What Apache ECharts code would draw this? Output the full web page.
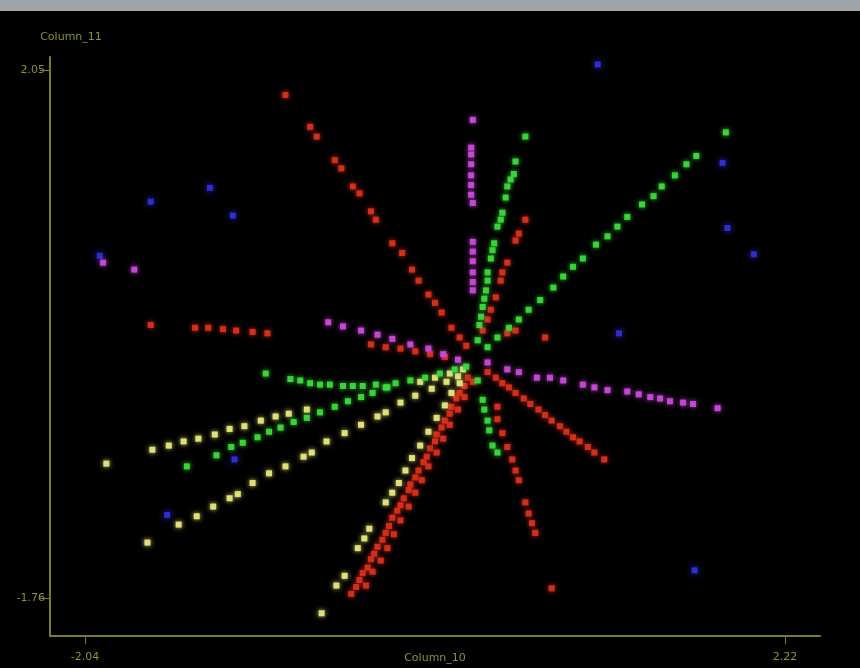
<!DOCTYPE html>
<html>
<head>
<meta charset="utf-8">
<script src="https://cdn.jsdelivr.net/npm/echarts@6/dist/echarts.min.js"></script>
<style>
  html, body { margin: 0; padding: 0; background: #000; }
  #topbar { position: absolute; left: 0; top: 0; width: 860px; height: 11px; background: #9fa4aa; z-index: 2; }
  #chart { position: absolute; left: 0; top: 0; width: 860px; height: 668px; }
</style>
</head>
<body>
<div id="chart"></div>
<div id="topbar"></div>
<script>
// Axis names and the two labelled ticks on each axis
const xName = 'Column_10';
const yName = 'Column_11';
const xTicks = [-2.04, 2.22];
const yTicks = [-1.76, 2.05];

// Point clouds, one array per colour: [Column_10, Column_11]
const redPts = [
  // long ray to the upper left
  [-0.82, 1.87], [-0.67, 1.64], [-0.63, 1.57], [-0.52, 1.40], [-0.48, 1.34], [-0.41, 1.21],
  [-0.37, 1.16], [-0.30, 1.03], [-0.27, 0.97], [-0.17, 0.80], [-0.11, 0.73], [-0.05, 0.61],
  [-0.01, 0.53], [0.05, 0.43], [0.09, 0.37], [0.13, 0.30], [0.19, 0.19], [0.24, 0.12], [0.28, 0.06],
  // short horizontal run on the left
  [-1.64, 0.21], [-1.37, 0.19], [-1.29, 0.19], [-1.20, 0.18], [-1.12, 0.17], [-1.02, 0.16], [-0.93, 0.15],
  // run beneath the magenta ray
  [-0.30, 0.07], [-0.21, 0.05], [-0.12, 0.04], [-0.03, 0.02], [0.06, 0.00], [0.15, -0.02],
  // upward ray
  [0.64, 0.97], [0.60, 0.87], [0.58, 0.82], [0.53, 0.66], [0.50, 0.59], [0.49, 0.53],
  [0.46, 0.41], [0.43, 0.32], [0.41, 0.25], [0.38, 0.17],
  [0.53, 0.15], [0.58, 0.17], [0.76, 0.12],
  // ray to the lower right
  [0.41, -0.13], [0.46, -0.17], [0.50, -0.21], [0.54, -0.24], [0.58, -0.28], [0.63, -0.32],
  [0.67, -0.36], [0.72, -0.40], [0.76, -0.44], [0.80, -0.48], [0.85, -0.52], [0.89, -0.56],
  [0.93, -0.60], [0.97, -0.63], [1.02, -0.67], [1.06, -0.71], [1.12, -0.76],
  // steep ray downwards
  [0.47, -0.38], [0.47, -0.47], [0.50, -0.57], [0.53, -0.67], [0.56, -0.76], [0.58, -0.84],
  [0.60, -0.91], [0.64, -1.07], [0.66, -1.15], [0.68, -1.22], [0.70, -1.29], [0.80, -1.69],
  // dense band to the lower left
  [0.29, -0.17], [0.27, -0.23], [0.24, -0.28], [0.22, -0.32], [0.19, -0.38], [0.18, -0.43],
  [0.15, -0.48], [0.13, -0.53], [0.10, -0.58], [0.09, -0.63], [0.06, -0.68], [0.04, -0.74],
  [0.02, -0.78], [-0.01, -0.84], [-0.03, -0.89], [-0.06, -0.94], [-0.07, -0.98], [-0.10, -1.04],
  [-0.12, -1.09], [-0.14, -1.13], [-0.17, -1.18], [-0.19, -1.24], [-0.21, -1.29], [-0.23, -1.34],
  [-0.26, -1.39], [-0.28, -1.44], [-0.30, -1.48], [-0.32, -1.54], [-0.35, -1.58], [-0.37, -1.63],
  [-0.39, -1.68], [-0.42, -1.73],
  [0.32, -0.20], [0.27, -0.31], [0.23, -0.40], [0.18, -0.51], [0.14, -0.61], [0.10, -0.71],
  [0.05, -0.81], [0.01, -0.91], [-0.03, -1.00], [-0.07, -1.10], [-0.12, -1.20], [-0.16, -1.30],
  [-0.20, -1.40], [-0.24, -1.49], [-0.29, -1.57], [-0.33, -1.67]
];

const yellowPts = [
  [-1.91, -0.79], [-1.63, -0.69], [-1.53, -0.66], [-1.44, -0.63], [-1.35, -0.61], [-1.25, -0.58],
  [-1.16, -0.54], [-1.07, -0.52], [-0.97, -0.48], [-0.88, -0.45], [-0.80, -0.43], [-0.69, -0.40],
  [0.00, -0.20], [0.09, -0.17], [0.18, -0.14], [0.26, -0.11],
  [-1.66, -1.36], [-1.47, -1.23], [-1.36, -1.17], [-1.26, -1.10], [-1.16, -1.04], [-1.11, -1.01],
  [-1.02, -0.93], [-0.92, -0.86], [-0.82, -0.81], [-0.71, -0.74], [-0.66, -0.71], [-0.57, -0.63],
  [-0.46, -0.57], [-0.36, -0.51], [-0.26, -0.45], [-0.21, -0.42], [-0.12, -0.35], [-0.03, -0.30],
  [0.07, -0.25], [0.16, -0.20], [0.23, -0.16],
  [-0.60, -1.87], [-0.51, -1.67], [-0.46, -1.60], [-0.38, -1.40], [-0.34, -1.33], [-0.31, -1.26],
  [-0.21, -1.07], [-0.17, -1.00], [-0.13, -0.93], [-0.09, -0.84], [-0.05, -0.75], [0.00, -0.66],
  [0.05, -0.56], [0.10, -0.46], [0.15, -0.37], [0.19, -0.28], [0.24, -0.21]
];

const greenPts = [
  // near-vertical ray
  [0.64, 1.57], [0.58, 1.39], [0.57, 1.30], [0.55, 1.26], [0.53, 1.21], [0.52, 1.13], [0.50, 1.02],
  [0.49, 0.97], [0.47, 0.92], [0.45, 0.80], [0.44, 0.75], [0.43, 0.69], [0.41, 0.59], [0.41, 0.53],
  [0.40, 0.46], [0.39, 0.40], [0.38, 0.34], [0.37, 0.27], [0.36, 0.21], [0.35, 0.10],
  // long ray to the upper right
  [1.86, 1.60], [1.68, 1.43], [1.62, 1.37], [1.55, 1.29], [1.47, 1.21], [1.42, 1.14], [1.35, 1.08],
  [1.26, 0.99], [1.20, 0.92], [1.14, 0.85], [1.07, 0.79], [0.99, 0.69], [0.93, 0.63], [0.87, 0.56],
  [0.81, 0.48], [0.73, 0.39], [0.66, 0.32], [0.60, 0.25], [0.54, 0.19], [0.47, 0.12], [0.41, 0.05],
  // flat ray to the left
  [-0.94, -0.14], [-0.79, -0.18], [-0.73, -0.19], [-0.67, -0.21], [-0.61, -0.22], [-0.55, -0.22],
  [-0.47, -0.23], [-0.41, -0.23], [-0.35, -0.23], [-0.27, -0.22], [-0.21, -0.24], [-0.15, -0.21],
  [-0.06, -0.19], [0.03, -0.17], [0.12, -0.14], [0.21, -0.11], [0.28, -0.09],
  // lower left ray
  [-1.42, -0.81], [-1.24, -0.73], [-1.15, -0.67], [-1.08, -0.64], [-0.99, -0.60], [-0.92, -0.56],
  [-0.85, -0.53], [-0.77, -0.49], [-0.69, -0.46], [-0.61, -0.42], [-0.52, -0.38], [-0.44, -0.34],
  [-0.36, -0.31], [-0.29, -0.28], [-0.20, -0.24],
  // short run downwards
  [0.35, -0.19], [0.38, -0.33], [0.39, -0.40], [0.41, -0.48], [0.42, -0.55], [0.44, -0.66], [0.47, -0.71]
];

const magentaPts = [
  [0.32, 1.69], [0.31, 1.49], [0.31, 1.44], [0.31, 1.37], [0.31, 1.29], [0.31, 1.22], [0.31, 1.15],
  [0.32, 1.09], [0.32, 0.81], [0.32, 0.74], [0.32, 0.67], [0.32, 0.59], [0.32, 0.52], [0.32, 0.46],
  [-0.56, 0.23], [-0.47, 0.20], [-0.36, 0.17], [-0.26, 0.14], [-0.17, 0.11], [-0.06, 0.07],
  [0.05, 0.04], [0.14, 0.00], [0.23, -0.04],
  [0.41, -0.06], [0.53, -0.11], [0.60, -0.13], [0.71, -0.17], [0.79, -0.17], [0.87, -0.19],
  [0.99, -0.22], [1.06, -0.24], [1.14, -0.26], [1.26, -0.27], [1.33, -0.29], [1.40, -0.31],
  [1.46, -0.32], [1.52, -0.34], [1.60, -0.35], [1.66, -0.36], [1.81, -0.39],
  [-1.93, 0.66], [-1.74, 0.61]
];

const bluePts = [
  [1.08, 2.09], [-1.64, 1.10], [-1.28, 1.20], [-1.14, 1.00], [-1.95, 0.71], [1.84, 1.38],
  [1.87, 0.91], [2.03, 0.72], [1.21, 0.15], [1.67, -1.56], [-1.13, -0.76], [-1.54, -1.16]
];

const axisColor = '#7d7d24';
const textColor = '#8f8f36';
const font = 'DejaVu Sans';

function pointSeries(data, color, size, blur) {
  return {
    type: 'scatter',
    data: data,
    symbol: 'rect',
    symbolSize: size,
    silent: true,
    itemStyle: { color: color, shadowBlur: blur, shadowColor: color, opacity: 0.95 }
  };
}

const chart = echarts.init(document.getElementById('chart'), null, { renderer: 'canvas' });
chart.setOption({
  backgroundColor: '#000000',
  animation: false,
  grid: { left: 50, right: 40, top: 57, bottom: 32, containLabel: false, outerBoundsMode: 'none' },
  xAxis: {
    type: 'value',
    min: -2.253, max: 2.433,
    name: xName,
    nameLocation: 'middle',
    nameGap: 22,
    nameMoveOverlap: false,
    nameTextStyle: { color: textColor, fontSize: 11, fontFamily: font, verticalAlign: 'middle' },
    axisLine: { onZero: false, lineStyle: { color: axisColor, width: 2 } },
    axisTick: { show: true, customValues: xTicks, length: 8, lineStyle: { color: axisColor, width: 1 } },
    axisLabel: {
      customValues: xTicks, color: textColor, fontSize: 11, fontFamily: font, margin: 16,
      formatter: v => v.toFixed(2)
    },
    splitLine: { show: false }
  },
  yAxis: {
    type: 'value',
    min: -2.034, max: 2.144,
    name: yName,
    nameLocation: 'end',
    nameGap: 14,
    nameTextStyle: { color: textColor, fontSize: 11, fontFamily: font, align: 'center', padding: [0, 0, 0, 42] },
    axisLine: { onZero: false, lineStyle: { color: axisColor, width: 2 } },
    axisTick: { show: true, customValues: yTicks, length: 10, lineStyle: { color: axisColor, width: 1 } },
    axisLabel: {
      customValues: yTicks, color: textColor, fontSize: 11, fontFamily: font, margin: 5,
      formatter: v => v.toFixed(2)
    },
    splitLine: { show: false }
  },
  series: [
    pointSeries(bluePts, '#2f2fd8', 6, 7),
    pointSeries(redPts, '#d8301c', 6, 5),
    pointSeries(yellowPts, '#e6e67e', 6, 5),
    pointSeries(greenPts, '#3cd83c', 6, 5),
    pointSeries(magentaPts, '#c84ad8', 6, 5)
  ]
});
</script>
</body>
</html>
